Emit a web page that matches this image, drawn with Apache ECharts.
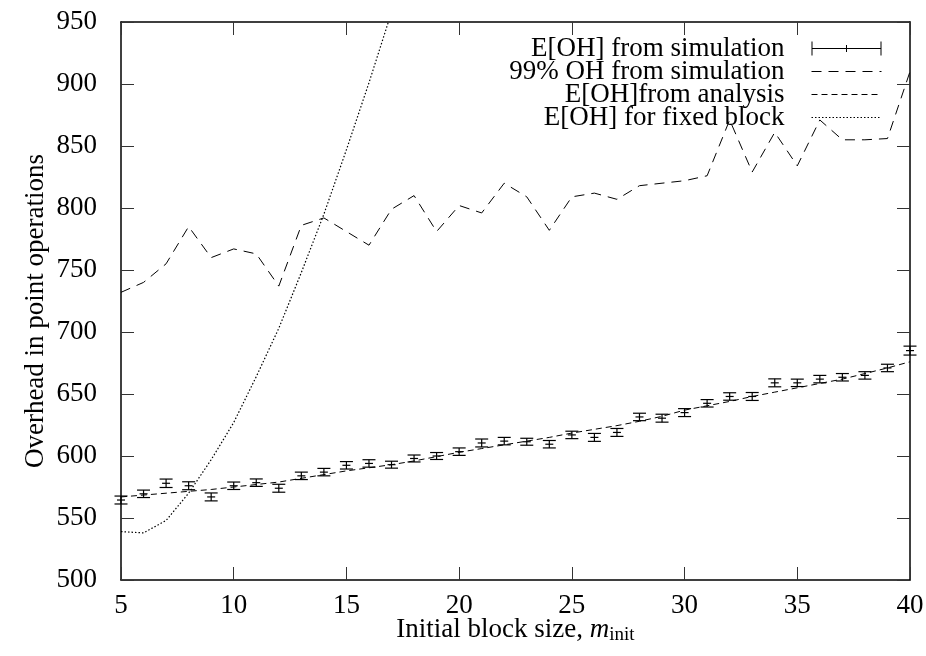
<!DOCTYPE html>
<html><head><meta charset="utf-8">
<script src="https://cdn.jsdelivr.net/npm/echarts@6/dist/echarts.min.js"></script>
<style>html,body{margin:0;padding:0;background:#fff}#c{width:926px;height:656px}</style>
</head><body><div id="c"></div>
<script>
// ---- data ----
const blockSizes = [5,6,7,8,9,10,11,12,13,14,15,16,17,18,19,20,21,22,23,24,25,26,27,28,29,30,31,32,33,34,35,36,37,38,39,40];
const simMean = [564.5,569.5,578,576,567,576,578.5,574,584,587,592.5,594,593,598,600,603.5,610.5,612,611.5,609.5,617,615,619,631.5,630.5,635,642.5,648,648,659,659,662,663.5,665,671,685];
const simErr = [3.2,3.0,3.4,3.2,3.2,3.0,3.0,3.2,3.0,3.0,3.0,3.0,2.8,2.8,2.8,3.0,3.2,3.0,2.8,3.0,3.0,3.2,3.2,3.0,3.2,3.2,3.0,3.0,3.2,3.2,3.0,3.0,3.0,3.0,3.0,3.6];
const p99 = [732,740,755,785,760,767,763,737,786,792,781,770,799,810,781,802,796,820,809,782,809,812,807,818,820,822,826,871,829,861,834,871,855,855,856,910];
const analysis = [567,568.5,570,571.5,573,575,577,579,582,585,588,590.5,593,596,599.5,603,606,609,612,615,618.5,621.5,624.5,628,632,637,640.5,644,648,651.5,655,658.5,662,666.5,671,676];
const fixedX = [5,6,7,8,9,10,11,12,13,14,15,16,17];
const fixedBlock = [539,538,548,570,597,627,664,703,748,795,847,901,958];
const seriesNames = ['E[OH] from simulation','99% OH from simulation','E[OH]from analysis','E[OH] for fixed block'];
const xTicks = {min:5, max:40, interval:5};
const yTicks = {min:500, max:950, interval:50};

// ---- chart ----
const FONT = '"Liberation Serif", "Times New Roman", serif';
const chart = echarts.init(document.getElementById('c'), null, {renderer:'canvas'});
const axisCommon = {
  axisLine:{show:true, onZero:false, lineStyle:{color:'#000', width:1.5}},
  axisTick:{show:true, inside:true, length:13, lineStyle:{color:'#333', width:1}},
  splitLine:{show:false}
};
const errIcon = 'path://M0,0h1v14h-1zM69,0h1v14h-1zM0,6.5h70v1h-70zM34.5,3.5h1v7h-1z';
const hiddenSymbol = {color:'rgba(0,0,0,0)', borderWidth:0, opacity:0};
chart.setOption({
  animation:false,
  backgroundColor:'#fff',
  grid:{left:121, right:16, top:22, bottom:76, containLabel:false, outerBoundsMode:'none'},
  xAxis:[
    Object.assign({type:'value', position:'bottom', min:xTicks.min, max:xTicks.max, interval:xTicks.interval,
      axisLabel:{fontFamily:FONT, fontSize:27, color:'#000', margin:12},
      name:'Initial block size, {m|m}{s|init}', nameLocation:'middle', nameGap:34, nameMoveOverlap:false,
      nameTextStyle:{fontFamily:FONT, fontSize:27, color:'#000',
        rich:{m:{fontFamily:FONT, fontSize:27, fontStyle:'italic', color:'#000'},
              s:{fontFamily:FONT, fontSize:19, color:'#000', padding:[12,0,0,0]}}}
    }, axisCommon),
    Object.assign({type:'value', position:'top', min:xTicks.min, max:xTicks.max, interval:xTicks.interval,
      axisLabel:{show:false}}, axisCommon)
  ],
  yAxis:[
    Object.assign({type:'value', position:'left', min:yTicks.min, max:yTicks.max, interval:yTicks.interval,
      axisLabel:{fontFamily:FONT, fontSize:27, color:'#000', margin:24},
      name:'Overhead in point operations', nameLocation:'middle', nameGap:72, nameMoveOverlap:false,
      nameTextStyle:{fontFamily:FONT, fontSize:27, color:'#000', padding:[0,20,0,0]}
    }, axisCommon),
    Object.assign({type:'value', position:'right', min:yTicks.min, max:yTicks.max, interval:yTicks.interval,
      axisLabel:{show:false}}, axisCommon)
  ],
  legend:{
    orient:'vertical', align:'right', right:44, top:35, padding:0, itemGap:-4,
    itemWidth:70, itemHeight:14, selectedMode:false,
    lineStyle:{width:1},
    textStyle:{fontFamily:FONT, fontSize:27, color:'#000', padding:[0,22,0,0]},
    data:[
      {name:seriesNames[0], icon:errIcon},
      {name:seriesNames[1], itemStyle:hiddenSymbol},
      {name:seriesNames[2], itemStyle:hiddenSymbol},
      {name:seriesNames[3], itemStyle:hiddenSymbol}
    ]
  },
  series:[
    {name:seriesNames[1], type:'line', symbol:'none', data:blockSizes.map((x,i)=>[x,p99[i]]),
      lineStyle:{color:'#000', width:1, type:[10,7]}, itemStyle:{color:'#000'}},
    {name:seriesNames[2], type:'line', symbol:'none', data:blockSizes.map((x,i)=>[x,analysis[i]]),
      lineStyle:{color:'#000', width:1, type:[6,4]}, itemStyle:{color:'#000'}},
    {name:seriesNames[3], type:'line', symbol:'none', data:fixedX.map((x,i)=>[x,fixedBlock[i]]),
      lineStyle:{color:'#000', width:1.2, type:[1.5,2]}, itemStyle:{color:'#000'}},
    {name:seriesNames[0], type:'custom', itemStyle:{color:'#000'},
      dimensions:['x','y','err'], encode:{x:0, y:1},
      data:blockSizes.map((x,i)=>[x, simMean[i], simErr[i]]),
      renderItem:function(params, api){
        const x = api.value(0), y = api.value(1), e = api.value(2);
        const c = api.coord([x,y]), lo = api.coord([x,y-e]), hi = api.coord([x,y+e]);
        const hw = 6.5, mw = 4;
        const st = {stroke:'#000', lineWidth:1.2};
        return {type:'group', children:[
          {type:'line', shape:{x1:c[0], y1:hi[1], x2:c[0], y2:lo[1]}, style:st},
          {type:'line', shape:{x1:c[0]-hw, y1:hi[1], x2:c[0]+hw, y2:hi[1]}, style:st},
          {type:'line', shape:{x1:c[0]-hw, y1:lo[1], x2:c[0]+hw, y2:lo[1]}, style:st},
          {type:'line', shape:{x1:c[0]-mw, y1:c[1], x2:c[0]+mw, y2:c[1]}, style:st}
        ]};
      }
    }
  ]
});
</script>
</body></html>
